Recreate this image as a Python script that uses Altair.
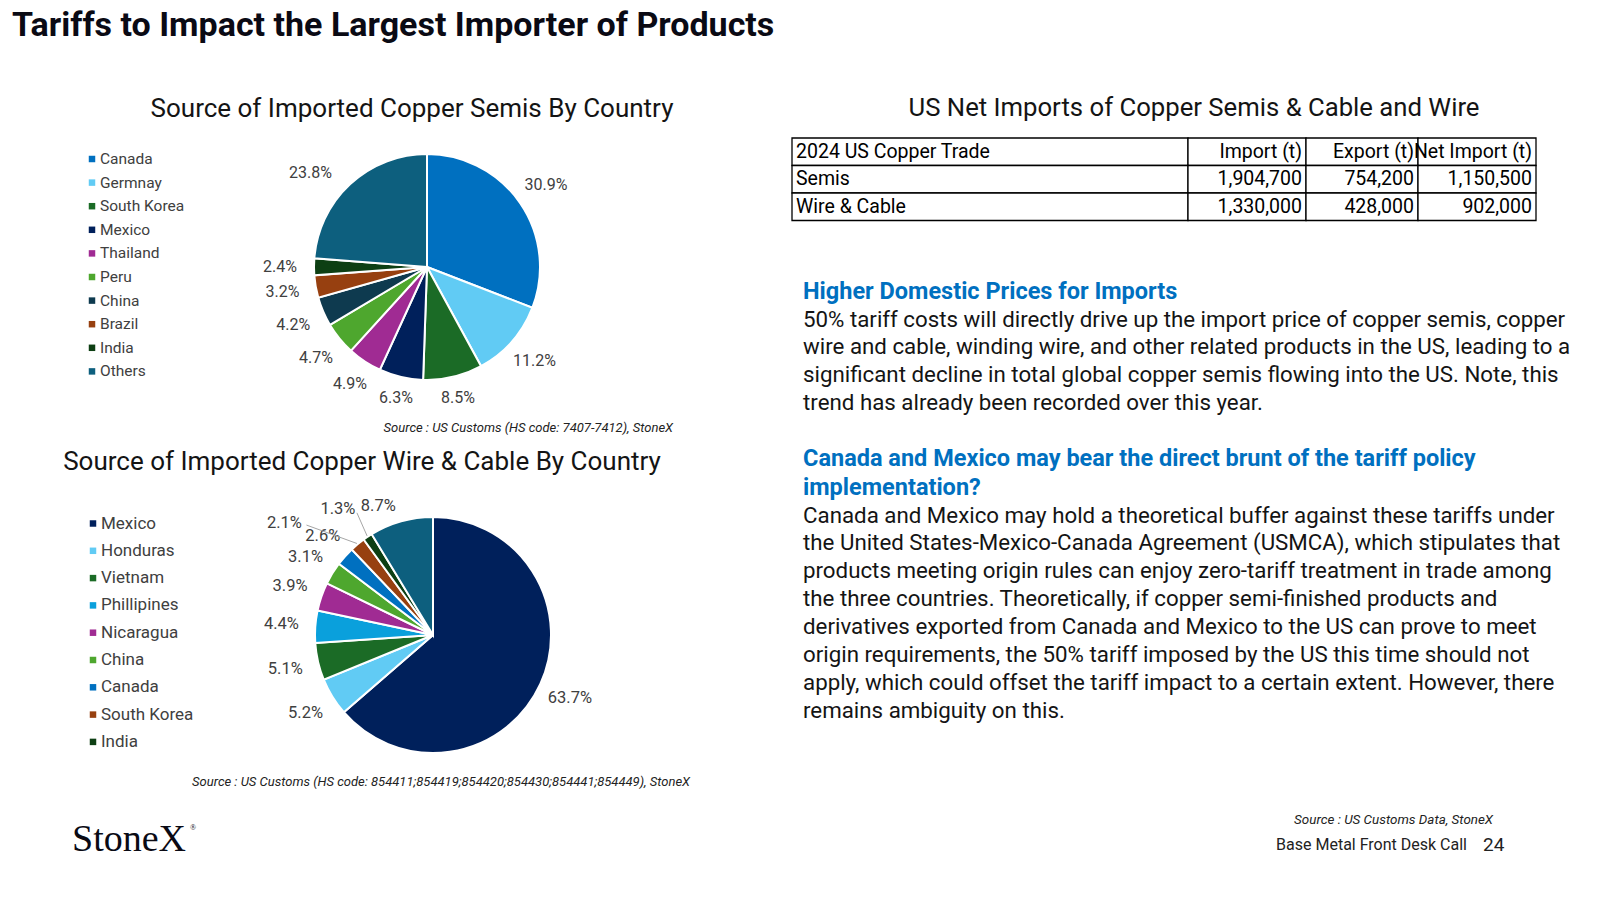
import altair as alt
import pandas as pd

# ---------------- data ----------------
semis_countries = ["Canada", "Germnay", "South Korea", "Mexico", "Thailand",
                   "Peru", "China", "Brazil", "India", "Others"]
semis_share = [30.9, 11.2, 8.5, 6.3, 4.9, 4.7, 4.2, 3.2, 2.4, 23.8]
semis_colors = ["#0070C0", "#61CBF4", "#1B6B26", "#00205B", "#A02B93",
                "#4EA72E", "#0E3A4F", "#974010", "#0D3F13", "#0D5F7E"]

wire_countries = ["Mexico", "Honduras", "Vietnam", "Phillipines", "Nicaragua",
                  "China", "Canada", "South Korea", "India", "Others"]
wire_share = [63.7, 5.2, 5.1, 4.4, 3.9, 3.1, 2.6, 2.1, 1.3, 8.7]
wire_colors = ["#00205B", "#61CBF4", "#1B6B26", "#0AA0DC", "#A02B93",
               "#4EA72E", "#0070C0", "#974010", "#0D3F13", "#0D5F7E"]

table_header = ["2024 US Copper Trade", "Import (t)", "Export (t)", "Net Import (t)"]
table_rows = ["Semis", "Wire & Cable"]
import_t = [1904700, 1330000]
export_t = [754200, 428000]
net_import_t = [1150500, 902000]

body1 = [
    "50% tariff costs will directly drive up the import price of copper semis, copper",
    "wire and cable, winding wire, and other related products in the US, leading to a",
    "significant decline in total global copper semis flowing into the US. Note, this",
    "trend has already been recorded over this year.",
]
head2 = ["Canada and Mexico may bear the direct brunt of the tariff policy",
         "implementation?"]
body2 = [
    "Canada and Mexico may hold a theoretical buffer against these tariffs under",
    "the United States-Mexico-Canada Agreement (USMCA), which stipulates that",
    "products meeting origin rules can enjoy zero-tariff treatment in trade among",
    "the three countries. Theoretically, if copper semi-finished products and",
    "derivatives exported from Canada and Mexico to the US can prove to meet",
    "origin requirements, the 50% tariff imposed by the US this time should not",
    "apply, which could offset the tariff impact to a certain extent. However, there",
    "remains ambiguity on this.",
]

FONT = "Roboto"
DARK = "#141414"
GREY = "#404040"
BLUE = "#0070C0"


def txt(s, x, y, size, color=DARK, weight="normal", align="left",
        style="normal", font=FONT):
    return alt.Chart(pd.DataFrame({"t": [s]})).mark_text(
        align=align, baseline="middle", fontSize=size, font=font,
        fontWeight=weight, fontStyle=style, color=color
    ).encode(text="t:N", x=alt.value(x), y=alt.value(y))


def lines(strs, x, y0, step, size, color=DARK, weight="normal"):
    df = pd.DataFrame({"i": list(range(len(strs))), "t": strs})
    return alt.Chart(df).mark_text(
        align="left", baseline="middle", fontSize=size, font=FONT,
        fontWeight=weight, color=color
    ).transform_calculate(py=f"{y0} + datum.i*{step}").encode(
        text="t:N", x=alt.value(x),
        y=alt.Y("py:Q", scale=None, axis=None))


def pie(countries, shares, colors, cx, cy, r, lab_size, overrides, leaders,
        legend_n, lgx, lgy0, lgstep, lg_size):
    df = pd.DataFrame({"idx": list(range(len(countries))),
                       "country": countries, "share": shares})
    df["label"] = [f"{v:.1f}%" for v in shares]
    cscale = alt.Scale(domain=countries, range=colors)
    base = alt.Chart(df)
    arcs = base.mark_arc(radius=r, stroke="white", strokeWidth=2).encode(
        theta=alt.Theta("share:Q", stack=True),
        order=alt.Order("idx:Q"),
        color=alt.Color("country:N", scale=cscale, legend=None),
        x=alt.value(cx), y=alt.value(cy))

    ang_expr = "datum.mid"
    rad_expr = f"{r + 18} + 16*abs(sin(datum.mid))"
    for name, (a, rr) in overrides.items():
        ang_expr = f"datum.country == '{name}' ? {a}*PI/180 : ({ang_expr})"
        rad_expr = f"datum.country == '{name}' ? {rr} : ({rad_expr})"

    geo = base.transform_joinaggregate(total="sum(share)").transform_window(
        cum="sum(share)", sort=[alt.SortField("idx")], frame=[None, 0]
    ).transform_calculate(
        mid="(datum.cum - datum.share/2)/datum.total*2*PI"
    ).transform_calculate(
        ang=ang_expr, rad=rad_expr
    ).transform_calculate(
        lx=f"{cx} + datum.rad*sin(datum.ang)",
        ly=f"{cy} - datum.rad*cos(datum.ang)",
        ex=f"{cx} + {r + 1}*sin(datum.mid)",
        ey=f"{cy} - {r + 1}*cos(datum.mid)",
    )
    labels = geo.mark_text(fontSize=lab_size, font=FONT, color=GREY,
                           baseline="middle", align="center").encode(
        text="label:N",
        x=alt.X("lx:Q", scale=None, axis=None),
        y=alt.Y("ly:Q", scale=None, axis=None))
    layers = [arcs, labels]
    for name, (dx, dy) in leaders.items():
        lead = geo.transform_filter(f"datum.country == '{name}'").transform_calculate(
            sx=f"datum.lx + {dx}", sy=f"datum.ly + {dy}"
        ).mark_rule(color="#A6A6A6", strokeWidth=1).encode(
            x=alt.X("sx:Q", scale=None, axis=None),
            y=alt.Y("sy:Q", scale=None, axis=None),
            x2="ex:Q", y2="ey:Q")
        layers.append(lead)

    leg = base.transform_filter(f"datum.idx < {legend_n}").transform_calculate(
        py=f"{lgy0} + datum.idx*{lgstep}")
    sq = leg.mark_square(size=42, opacity=1).encode(
        x=alt.value(lgx), y=alt.Y("py:Q", scale=None, axis=None),
        color=alt.Color("country:N", scale=cscale, legend=None))
    lt = leg.mark_text(align="left", baseline="middle", fontSize=lg_size,
                       font=FONT, color=GREY).encode(
        text="country:N", x=alt.value(lgx + 8),
        y=alt.Y("py:Q", scale=None, axis=None))
    layers += [sq, lt]
    return layers


def table(x_edges, y_edges, size):
    cells = []
    body = [[table_header[0], table_header[1], table_header[2], table_header[3]]]
    for i, name in enumerate(table_rows):
        body.append([name, f"{import_t[i]:,}", f"{export_t[i]:,}", f"{net_import_t[i]:,}"])
    for ri, row in enumerate(body):
        for ci, val in enumerate(row):
            cells.append({"r": ri, "c": ci, "t": val})
    df = pd.DataFrame(cells)
    xe = "[" + ",".join(str(v) for v in x_edges) + "]"
    ye = "[" + ",".join(str(v) for v in y_edges) + "]"
    base = alt.Chart(df).transform_calculate(
        x0=f"{xe}[datum.c]", x1=f"{xe}[datum.c + 1]",
        y0=f"{ye}[datum.r]", y1=f"{ye}[datum.r + 1]"
    ).transform_calculate(ym="(datum.y0 + datum.y1)/2",
                          xl="datum.x0 + 4", xr="datum.x1 - 4")
    rect = base.mark_rect(fill="white", stroke="black", strokeWidth=1.3).encode(
        x=alt.X("x0:Q", scale=None, axis=None), x2="x1:Q",
        y=alt.Y("y0:Q", scale=None, axis=None), y2="y1:Q")
    tl = base.transform_filter("datum.c == 0").mark_text(
        align="left", baseline="middle", fontSize=size, font=FONT, color="black"
    ).encode(text="t:N", x=alt.X("xl:Q", scale=None, axis=None),
             y=alt.Y("ym:Q", scale=None, axis=None))
    tr = base.transform_filter("datum.c > 0").mark_text(
        align="right", baseline="middle", fontSize=size, font=FONT, color="black"
    ).encode(text="t:N", x=alt.X("xr:Q", scale=None, axis=None),
             y=alt.Y("ym:Q", scale=None, axis=None))
    return [rect, tl, tr]


layers = []
layers.append(txt("Tariffs to Impact the Largest Importer of Products", 12, 26, 34,
                  color="#0A0A14", weight="bold"))
layers.append(txt("Source of Imported Copper Semis By Country", 412, 109, 26,
                  align="center"))
layers.append(txt("Source of Imported Copper Wire & Cable By Country", 362, 462, 26,
                  align="center"))
layers.append(txt("US Net Imports of Copper Semis & Cable and Wire", 1194, 108, 25.7,
                  align="center"))

layers += pie(semis_countries, semis_share, semis_colors, 427, 267, 113, 16,
              {"Others": (309, 150)}, {}, 10, 92, 159, 23.6, 15.5)
layers += pie(wire_countries, wire_share, wire_colors, 433, 635, 118, 16.5,
              {"South Korea": (307, 186), "India": (323, 158), "Others": (337, 140)},
              {"South Korea": (22, 2), "India": (19, 4)},
              9, 93, 523.5, 27.3, 17)

layers += table([792, 1188, 1306, 1418, 1536], [138, 165.5, 193, 220.5], 19.5)

layers.append(txt("Higher Domestic Prices for Imports", 803, 292, 23.5,
                  color=BLUE, weight="bold"))
layers.append(lines(body1, 803, 319.5, 27.9, 22.3))
layers.append(lines(head2, 803, 459, 28.5, 23.5, color=BLUE, weight="bold"))
layers.append(lines(body2, 803, 515.5, 27.9, 22.3))

layers.append(txt("Source : US Customs (HS code: 7407-7412), StoneX", 673, 428, 13,
                  color="#222222", align="right", style="italic"))
layers.append(txt("Source : US Customs (HS code:  854411;854419;854420;854430;854441;854449), StoneX",
                  690, 782, 13, color="#222222", align="right", style="italic"))
layers.append(txt("Source : US Customs Data, StoneX", 1493, 820, 13.4,
                  color="#222222", align="right", style="italic"))
layers.append(txt("Base Metal Front Desk Call", 1467, 845, 16, color="#222222",
                  align="right"))
layers.append(txt("24", 1483, 845, 19, color="#222222"))
layers.append(txt("StoneX", 72, 840, 38, color="#0A0A14", font="Liberation Serif"))
layers.append(txt("®", 190, 828, 8, color="#0A0A14", font="Liberation Serif"))

chart = alt.layer(*layers).resolve_scale(
    color="independent", theta="independent", x="independent", y="independent"
).properties(
    width=1600, height=900, autosize=alt.AutoSizeParams(type="none"), padding=0,
    background="white"
).configure_view(stroke=None)

chart.save("out.html", embed_options={"renderer": "svg", "actions": False})
